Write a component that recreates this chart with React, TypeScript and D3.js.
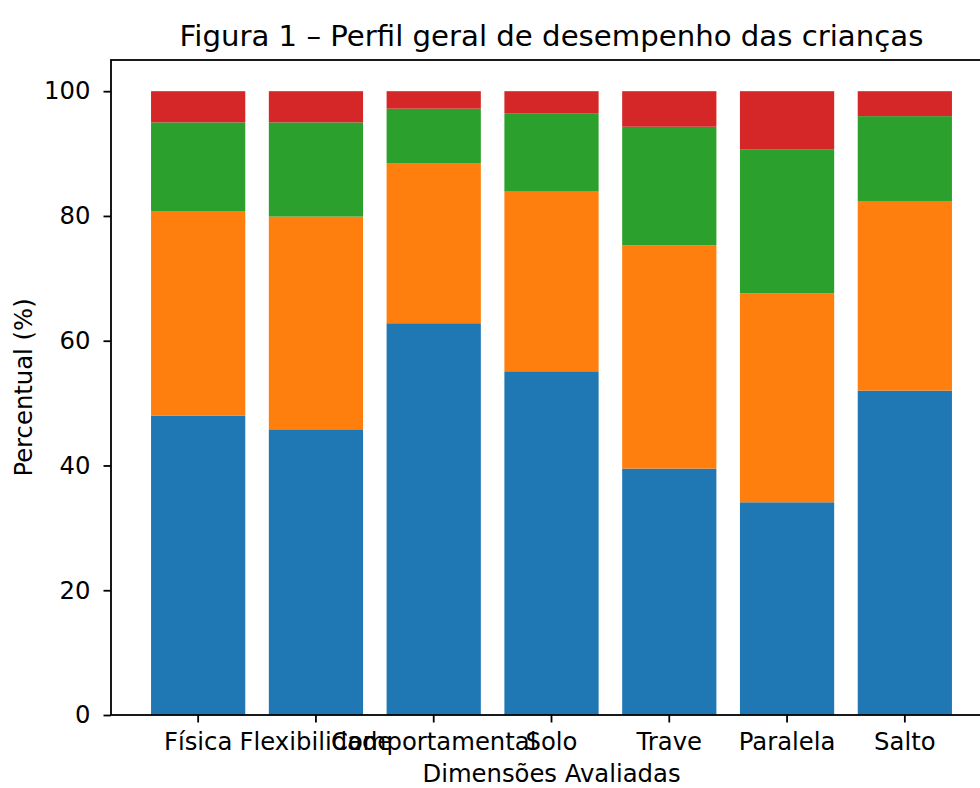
import { useEffect, useRef } from "react";
import * as d3 from "d3";

// Dimensions on the x axis
const CATEGORIES = ["Física", "Flexibilidade", "Comportamental", "Solo", "Trave", "Paralela", "Salto"];

// Stacked series (% of children per level), bottom to top
const SERIES_NAMES = ["Nível 1", "Nível 2", "Nível 3", "Nível 4"];
const NIVEL_1 = [48.0, 45.8, 62.8, 55.1, 39.5, 34.1, 52.0];
const NIVEL_2 = [32.7, 34.1, 25.6, 28.8, 35.8, 33.5, 30.4];
const NIVEL_3 = [14.3, 15.1, 8.8, 12.5, 19.0, 23.1, 13.6];
const NIVEL_4 = [5.0, 5.0, 2.8, 3.6, 5.7, 9.3, 4.0];

const Y_TICKS = [0, 20, 40, 60, 80, 100];
const COLORS = ["#1f77b4", "#ff7f0e", "#2ca02c", "#d62728"];

const TITLE = "Figura 1 – Perfil geral de desempenho das crianças";
const X_LABEL = "Dimensões Avaliadas";
const Y_LABEL = "Percentual (%)";

const W = 980;
const H = 788;
const M = { left: 111, right: 992, top: 60, bottom: 715 };
const FONT = "'DejaVu Sans', sans-serif";
const TICK_FS = 24.3;
const TITLE_FS = 29.2;

export default function App() {
  const svgRef = useRef<SVGSVGElement>(null);

  useEffect(() => {
    const svg = d3.select(svgRef.current);
    svg.selectAll("*").remove();

    const rows = CATEGORIES.map((c, i) => ({
      cat: c,
      [SERIES_NAMES[0]]: NIVEL_1[i],
      [SERIES_NAMES[1]]: NIVEL_2[i],
      [SERIES_NAMES[2]]: NIVEL_3[i],
      [SERIES_NAMES[3]]: NIVEL_4[i],
    }));
    const stacked = d3.stack<any>().keys(SERIES_NAMES)(rows);

    const x = d3.scaleBand<string>()
      .domain(CATEGORIES)
      .range([M.left, M.right])
      .paddingInner(0.2)
      .paddingOuter(0.34);

    const y = d3.scaleLinear().domain([0, 105]).range([M.bottom, M.top]);

    // ── Bars ────────────────────────────────────────────
    const layers = svg.append("g")
      .selectAll("g")
      .data(stacked)
      .join("g")
      .attr("fill", (_, i) => COLORS[i]);

    layers.selectAll("rect")
      .data((d) => d)
      .join("rect")
      .attr("x", (d) => x(d.data.cat)!)
      .attr("width", x.bandwidth())
      .attr("y", (d) => y(d[1]))
      .attr("height", (d) => y(d[0]) - y(d[1]));

    // ── Axes ────────────────────────────────────────────
    const yAxis = svg.append("g")
      .attr("transform", `translate(${M.left},0)`)
      .call(d3.axisLeft(y).tickValues(Y_TICKS).tickSize(7.5).tickPadding(13).tickSizeOuter(0));
    yAxis.select(".domain").remove();
    yAxis.selectAll("line").attr("stroke", "#000").attr("stroke-width", 1.8);
    yAxis.selectAll("text")
      .attr("font-family", FONT)
      .attr("font-size", TICK_FS)
      .attr("fill", "#000");

    const xAxis = svg.append("g")
      .attr("transform", `translate(0,${M.bottom})`)
      .call(d3.axisBottom(x).tickSize(7.5).tickPadding(10.5).tickSizeOuter(0));
    xAxis.select(".domain").remove();
    xAxis.selectAll("line").attr("stroke", "#000").attr("stroke-width", 1.8);
    xAxis.selectAll("text")
      .attr("font-family", FONT)
      .attr("font-size", TICK_FS)
      .attr("fill", "#000");

    // Spines
    svg.append("rect")
      .attr("x", M.left)
      .attr("y", M.top)
      .attr("width", M.right - M.left)
      .attr("height", M.bottom - M.top)
      .attr("fill", "none")
      .attr("stroke", "#000")
      .attr("stroke-width", 1.8);

    // ── Labels ──────────────────────────────────────────
    svg.append("text")
      .attr("x", (M.left + M.right) / 2)
      .attr("y", 46)
      .attr("text-anchor", "middle")
      .attr("font-family", FONT)
      .attr("font-size", TITLE_FS)
      .text(TITLE);

    svg.append("text")
      .attr("x", (M.left + M.right) / 2)
      .attr("y", 782)
      .attr("text-anchor", "middle")
      .attr("font-family", FONT)
      .attr("font-size", TICK_FS)
      .text(X_LABEL);

    svg.append("text")
      .attr("transform", `translate(32,${(M.top + M.bottom) / 2}) rotate(-90)`)
      .attr("text-anchor", "middle")
      .attr("font-family", FONT)
      .attr("font-size", TICK_FS)
      .text(Y_LABEL);
  }, []);

  return (
    <div style={{ position: "fixed", left: 0, top: 0, width: W, height: H, background: "#fff" }}>
      <svg ref={svgRef} width={W} height={H} style={{ display: "block" }} />
    </div>
  );
}
